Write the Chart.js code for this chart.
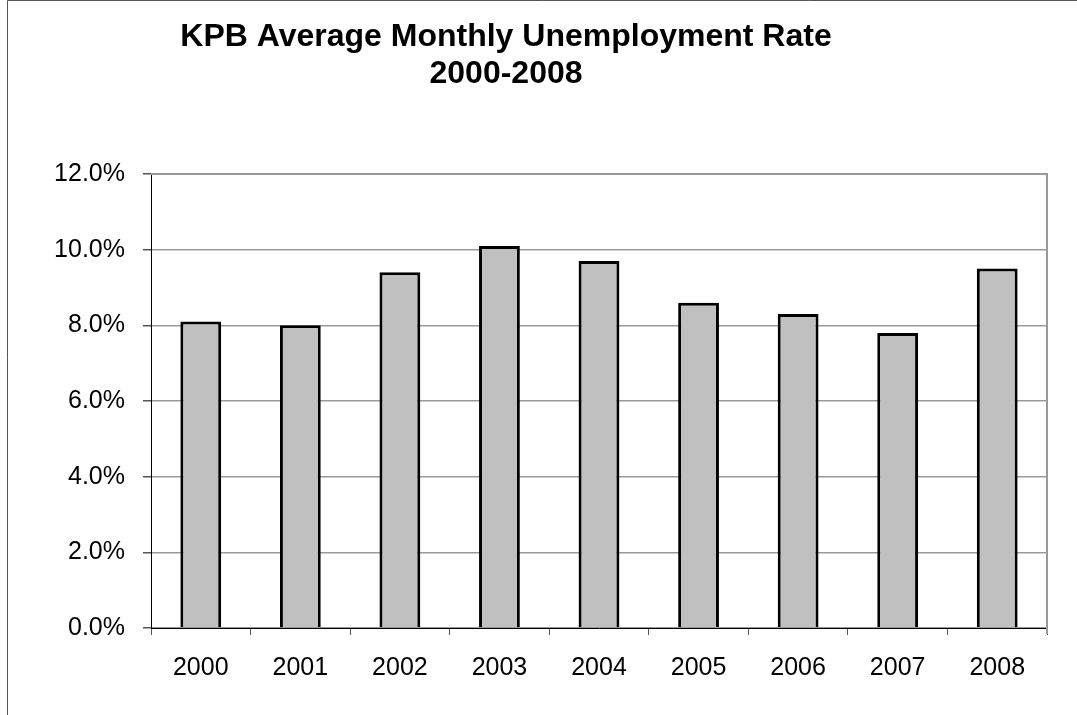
<!DOCTYPE html>
<html>
<head>
<meta charset="utf-8">
<script src="https://cdn.jsdelivr.net/npm/chart.js@4/dist/chart.umd.min.js"></script>
<style>
  html, body { margin: 0; padding: 0; background: #fff; }
  #wrap { width: 1077px; height: 715px; }
</style>
</head>
<body>
<div id="wrap"><canvas id="myChart"></canvas></div>
<script>
const years = ['2000', '2001', '2002', '2003', '2004', '2005', '2006', '2007', '2008'];
const rates = [8.1, 8.0, 9.4, 10.1, 9.7, 8.6, 8.3, 7.8, 9.5];
const titleLines = ['KPB Average Monthly Unemployment Rate', '2000-2008'];

const fontFamily = '"Liberation Sans", Arial, sans-serif';

// frame, plot border and the two-line title
const decor = {
    id: 'decor',
    beforeDraw(chart) {
        const ctx = chart.ctx;
        ctx.save();
        ctx.fillStyle = '#fff';
        ctx.fillRect(0, 0, chart.width, chart.height);
        ctx.strokeStyle = '#555';
        ctx.lineWidth = 1;
        ctx.beginPath();
        ctx.moveTo(7.5, chart.height);
        ctx.lineTo(7.5, 0.5);
        ctx.lineTo(chart.width, 0.5);
        ctx.stroke();
        ctx.fillStyle = '#000';
        ctx.font = 'bold 32px ' + fontFamily;
        ctx.textAlign = 'center';
        ctx.textBaseline = 'alphabetic';
        ctx.fillText(titleLines[0], 506, 46);
        ctx.fillText(titleLines[1], 506, 83);
        ctx.restore();
    },
    beforeDatasetsDraw(chart) {
        const a = chart.chartArea;
        const ctx = chart.ctx;
        ctx.save();
        ctx.strokeStyle = '#999';
        ctx.lineWidth = 2;
        ctx.beginPath();
        ctx.moveTo(a.left, a.top);
        ctx.lineTo(a.right, a.top);
        ctx.lineTo(a.right, a.bottom + 6);
        ctx.stroke();
        ctx.restore();
    }
};

const data = {
    labels: years,
    datasets: [{
        data: rates,
        backgroundColor: '#c0c0c0',
        borderColor: '#000',
        borderWidth: 3,
        barPercentage: 0.41,
        categoryPercentage: 1
    }]
};

const config = {
    type: 'bar',
    data: data,
    plugins: [decor],
    options: {
        responsive: true,
        maintainAspectRatio: false,
        animation: false,
        layout: { padding: { left: 0, top: 174, right: 30, bottom: 0 } },
        plugins: {
            legend: { display: false },
            title: { display: false },
            tooltip: { enabled: false }
        },
        scales: {
            x: {
                offset: true,
                grid: {
                    offset: true,
                    drawOnChartArea: false,
                    tickLength: 7,
                    tickColor: '#555'
                },
                border: { color: '#000', width: 1 },
                ticks: {
                    color: '#000',
                    padding: 18,
                    font: { family: fontFamily, size: 25 }
                },
                afterFit(scale) { scale.height = 715 - 628; }
            },
            y: {
                min: 0,
                max: 12,
                ticks: {
                    stepSize: 2,
                    color: '#000',
                    padding: 18,
                    font: { family: fontFamily, size: 25 },
                    callback: v => v.toFixed(1) + '%'
                },
                grid: {
                    color: '#999',
                    lineWidth: 1.5,
                    tickLength: 8,
                    tickColor: '#555'
                },
                border: { color: '#000', width: 1 },
                afterFit(scale) { scale.width = 151; }
            }
        }
    }
};

const myChart = new Chart(document.getElementById('myChart'), config);
</script>
</body>
</html>
